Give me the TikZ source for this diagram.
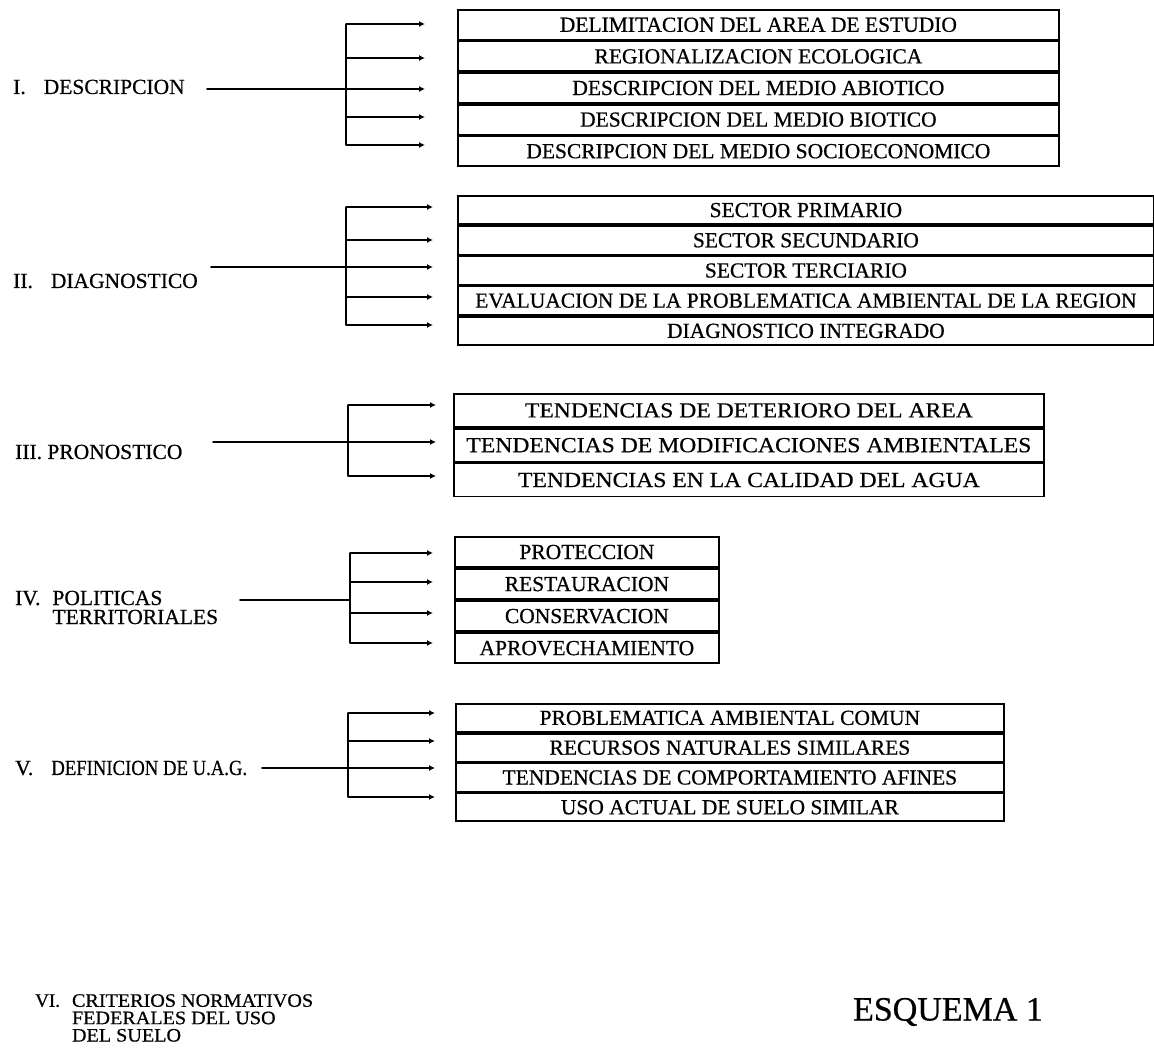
\documentclass[tikz,border=0pt]{standalone}
\usepackage{fontspec}
\setmainfont{Liberation Serif}[FakeBold=0.6]
\usetikzlibrary{arrows.meta}
\begin{document}
\begin{tikzpicture}[x=1pt,y=-1pt,
  txt/.style={font=\fontsize{21.5}{24}\selectfont, inner sep=0pt},
  rowbox/.style={txt, draw, line width=1.8pt, anchor=north west},
  ln/.style={line width=1.8pt, line cap=round},
  arr/.style={line width=1.8pt, -{Latex[length=6pt,width=6pt]}},
  lbl/.style={txt, anchor=west, align=left},
]
\useasboundingbox (0,0) rectangle (1154,1056);

% ---------- I. DESCRIPCION ----------
\node[lbl] (lI) at (13,87) {I.\hspace{18pt}DESCRIPCION};
\begin{scope}[every node/.style={rowbox, minimum width=601pt, minimum height=29.8pt}]
  \node (d1) at (457,9) {DELIMITACION DEL AREA DE ESTUDIO};
  \node (d2) at (d1.south west) {REGIONALIZACION ECOLOGICA};
  \node (d3) at (d2.south west) {DESCRIPCION DEL MEDIO ABIOTICO};
  \node (d4) at (d3.south west) {DESCRIPCION DEL MEDIO BIOTICO};
  \node (d5) at (d4.south west) {DESCRIPCION DEL MEDIO SOCIOECONOMICO};
\end{scope}
\foreach \y [count=\i] in {24,58,89,117,145} {
  \coordinate (Ib\i) at (346,\y);
  \coordinate (Ia\i) at (425,\y);
  \draw[arr] (Ib\i) -- (Ia\i);
}
\draw[ln] (Ib1) -- (Ib5);
\coordinate (Is) at (207,89);
\draw[ln] (Is) -- (Ib3);

% ---------- II. DIAGNOSTICO ----------
\node[lbl] (lII) at (13,281) {II.\hspace{18pt}DIAGNOSTICO};
\begin{scope}[every node/.style={rowbox, minimum width=696pt, minimum height=28.4pt}]
  \node (g1) at (457,195) {SECTOR PRIMARIO};
  \node (g2) at (g1.south west) {SECTOR SECUNDARIO};
  \node (g3) at (g2.south west) {SECTOR TERCIARIO};
  \node (g4) at (g3.south west) {EVALUACION DE LA PROBLEMATICA AMBIENTAL DE LA REGION};
  \node (g5) at (g4.south west) {DIAGNOSTICO INTEGRADO};
\end{scope}
\foreach \y [count=\i] in {207,240,267,297,325} {
  \coordinate (IIb\i) at (346,\y);
  \coordinate (IIa\i) at (433,\y);
  \draw[arr] (IIb\i) -- (IIa\i);
}
\draw[ln] (IIb1) -- (IIb5);
\coordinate (IIs) at (211,267);
\draw[ln] (IIs) -- (IIb3);

% ---------- III. PRONOSTICO ----------
\node[lbl] (lIII) at (15,452) {III. PRONOSTICO};
\begin{scope}[every node/.style={rowbox, minimum width=590pt, minimum height=33pt,
    font=\fontsize{21.5}{24}\selectfont\addfontfeatures{FakeStretch=1.1}}]
  \node (p1) at (453,393) {TENDENCIAS DE DETERIORO DEL AREA};
  \node (p2) at (p1.south west) {TENDENCIAS DE MODIFICACIONES AMBIENTALES};
  \node (p3) at (p2.south west) {TENDENCIAS EN LA CALIDAD DEL AGUA};
\end{scope}
\foreach \y [count=\i] in {405,442,476} {
  \coordinate (IIIb\i) at (348,\y);
  \coordinate (IIIa\i) at (436,\y);
  \draw[arr] (IIIb\i) -- (IIIa\i);
}
\draw[ln] (IIIb1) -- (IIIb3);
\coordinate (IIIs) at (213,442);
\draw[ln] (IIIs) -- (IIIb2);

% ---------- IV. POLITICAS TERRITORIALES ----------
\node[lbl, anchor=north west] (lIV) at (15,588)
  {\begin{tabular}{@{}l@{\hspace{12pt}}l@{}}IV. & POLITICAS\\[-5pt] & TERRITORIALES\end{tabular}};
\begin{scope}[every node/.style={rowbox, minimum width=264pt, minimum height=30.25pt}]
  \node (t1) at (454,536) {PROTECCION};
  \node (t2) at (t1.south west) {RESTAURACION};
  \node (t3) at (t2.south west) {CONSERVACION};
  \node (t4) at (t3.south west) {APROVECHAMIENTO};
\end{scope}
\foreach \y [count=\i] in {553,582,613,643} {
  \coordinate (IVb\i) at (350,\y);
  \coordinate (IVa\i) at (433,\y);
  \draw[arr] (IVb\i) -- (IVa\i);
}
\draw[ln] (IVb1) -- (IVb4);
\coordinate (IVs) at (240,600);
\coordinate (IVm) at (350,600);
\draw[ln] (IVs) -- (IVm);

% ---------- V. DEFINICION DE U.A.G. ----------
\node[lbl] (lV) at (15,768) {V.\hspace{18pt}\scalebox{0.87}[1]{DEFINICION DE U.A.G.}};
\begin{scope}[every node/.style={rowbox, minimum width=548pt, minimum height=28pt}]
  \node (u1) at (455,703) {PROBLEMATICA AMBIENTAL COMUN};
  \node (u2) at (u1.south west) {RECURSOS NATURALES SIMILARES};
  \node (u3) at (u2.south west) {TENDENCIAS DE COMPORTAMIENTO AFINES};
  \node (u4) at (u3.south west) {USO ACTUAL DE SUELO SIMILAR};
\end{scope}
\foreach \y [count=\i] in {713,741,768,797} {
  \coordinate (Vb\i) at (348,\y);
  \coordinate (Va\i) at (435,\y);
  \draw[arr] (Vb\i) -- (Va\i);
}
\draw[ln] (Vb1) -- (Vb4);
\coordinate (Vs) at (262,768);
\draw[ln] (Vs) -- (Vb3);

% ---------- VI. CRITERIOS NORMATIVOS ----------
\node[txt, anchor=north west, font=\fontsize{19}{16}\selectfont] (lVI) at (35,994)
  {\begin{tabular}{@{}l@{\hspace{12pt}}l@{}}VI. & \scalebox{1.06}[1]{CRITERIOS NORMATIVOS}\\ & \scalebox{1.06}[1]{FEDERALES DEL USO}\\ & \scalebox{1.06}[1]{DEL SUELO}\end{tabular}};

% ---------- caption ----------
\node[txt, font=\fontsize{34}{38}\selectfont] (esq) at (948,1012) {ESQUEMA 1};
\end{tikzpicture}
\end{document}
